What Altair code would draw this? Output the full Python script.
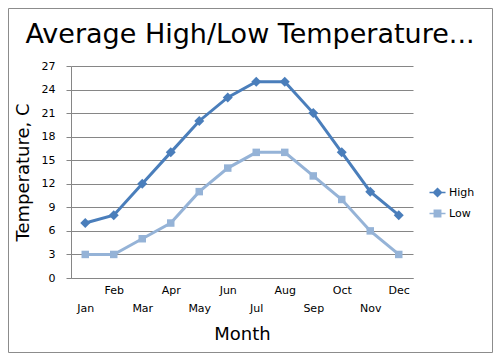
import altair as alt
import pandas as pd

months = ["Jan", "Feb", "Mar", "Apr", "May", "Jun", "Jul", "Aug", "Sep", "Oct", "Nov", "Dec"]
high = [7, 8, 12, 16, 20, 23, 25, 25, 21, 16, 11, 8]
low = [3, 3, 5, 7, 11, 14, 16, 16, 13, 10, 6, 3]
series_names = ["High", "Low"]
series_colors = ["#4A7EBB", "#95B3D7"]
series_shapes = ["diamond", "square"]
series_sizes = [100, 56]
y_ticks = [0, 3, 6, 9, 12, 15, 18, 21, 24, 27]

rows = []
for name, vals in zip(series_names, [high, low]):
    for m, v in zip(months, vals):
        rows.append({"month": m, "series": name, "temp": v})
df = pd.DataFrame(rows)

FONT = "DejaVu Sans"
GRAY = "#868686"

color_scale = alt.Scale(domain=series_names, range=series_colors)

x_enc = alt.X(
    "month:N",
    sort=months,
    title="Month",
    axis=alt.Axis(
        labelAngle=0,
        ticks=False,
        grid=False,
        labelOverlap=False,
        labelExpr="indexof(['Jan','Mar','May','Jul','Sep','Nov'], datum.value) >= 0 ? ['', datum.label] : datum.label",
        labelLineHeight=18,
        labelPadding=6,
        titlePadding=12,
        domainColor=GRAY,
    ),
)
y_enc = alt.Y(
    "temp:Q",
    scale=alt.Scale(domain=[0, 27], nice=False),
    axis=alt.Axis(
        values=y_ticks,
        title="Temperature, C",
        tickSize=5,
        labelPadding=11,
        titlePadding=9,
        grid=True,
        gridColor=GRAY,
        tickColor=GRAY,
        domainColor=GRAY,
    ),
)

series_layers = []
for name, col, shp, sz in zip(series_names, series_colors, series_shapes, series_sizes):
    base = alt.Chart(df).transform_filter(alt.datum.series == name)
    series_layers.append(base.mark_line(strokeWidth=3, color=col).encode(x=x_enc, y=y_enc))
for name, col, shp, sz in zip(series_names, series_colors, series_shapes, series_sizes):
    base = alt.Chart(df).transform_filter(alt.datum.series == name)
    series_layers.append(
        base.mark_point(filled=True, opacity=1, shape=shp, size=sz, color=col).encode(x=x_enc, y=y_enc)
    )

leg = alt.Legend(
    title=None,
    orient="none",
    legendX=361,
    legendY=121,
    symbolSize=64,
    labelFont=FONT,
    labelFontSize=11,
    labelColor="black",
    labelOffset=6,
    rowPadding=7,
    padding=0,
    symbolStrokeWidth=1.5,
)
path_high = "M-2,0H2M0,-1L1,0L0,1L-1,0Z"
path_low = "M-2,0H2M-0.8,-0.8H0.8V0.8H-0.8Z"

# hidden (clipped) layer that only feeds the legend
legend_layer = alt.Chart(df).mark_point(filled=True, opacity=1, clip=True).encode(
    x=alt.value(-40),
    y=alt.value(-40),
    fill=alt.Fill("series:N", scale=color_scale, legend=leg),
    stroke=alt.Stroke("series:N", scale=color_scale, legend=leg),
    shape=alt.Shape("series:N", scale=alt.Scale(domain=series_names, range=[path_high, path_low]), legend=leg),
)

border = alt.Chart(pd.DataFrame({"k": [0]})).mark_rect(fillOpacity=0, stroke="#8C8C8C", strokeWidth=1).encode(
    x=alt.value(-62.5), x2=alt.value(421.5), y=alt.value(-57.5), y2=alt.value(286.5)
)

chart = alt.layer(border, *series_layers, legend_layer).properties(
    width=342,
    height=212,
    padding={"left": 63, "top": 58, "right": 81, "bottom": 76},
    autosize=alt.AutoSizeParams(type="none"),
    title=alt.Title(
        "Average High/Low Temperature...",
        fontSize=27,
        font=FONT,
        fontWeight="normal",
        color="black",
        anchor="middle",
        dx=8,
        offset=-41,
    ),
).configure_view(stroke=None).configure_axis(
    labelFont=FONT,
    labelFontSize=11,
    labelColor="black",
    titleFont=FONT,
    titleFontSize=18,
    titleFontWeight="normal",
    titleColor="black",
)

chart.save("out.html", embed_options={"renderer": "svg", "actions": False})
